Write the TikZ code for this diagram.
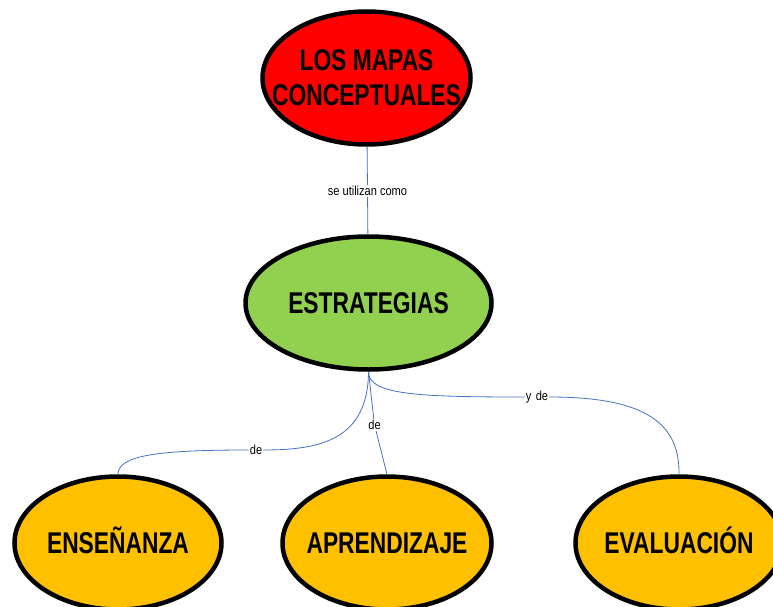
\documentclass[tikz,border=0pt]{standalone}
\usepackage{xcolor}
\usepackage{fontspec}
\usepackage{tikz}
\usetikzlibrary{shapes}
\usetikzlibrary{shapes.geometric}
\usetikzlibrary{positioning}

\newfontfamily\conceptfont[FakeStretch=0.76]{Liberation Sans}
\newfontfamily\linkfont[FakeStretch=0.85]{Liberation Sans}
\definecolor{mapred}{HTML}{FF0000}
\definecolor{mapgreen}{HTML}{92D050}
\definecolor{maporange}{HTML}{FFC000}
\definecolor{linkblue}{HTML}{4472C4}

\begin{document}
\begin{tikzpicture}[x=1pt, y=-1pt,
  concept/.style={ellipse, draw=black, line width=4.5pt,
    inner xsep=-30pt, inner ysep=-22pt,
    minimum height=133pt, align=center,
    font=\conceptfont\bfseries\fontsize{30}{35}\selectfont},
  oneline/.style={text height=21.5pt, text depth=0pt},
  link/.style={draw=linkblue, line width=0.8pt},
  linklabel/.style={fill=white, inner sep=1pt, text=black,
    font=\linkfont\fontsize{13}{15}\selectfont}]
\useasboundingbox (0, 0) rectangle (773, 607);

% conceptos
\node [concept, fill=mapred, minimum width=208pt] (mapas) at (366.5, 78) {LOS MAPAS\\CONCEPTUALES};
\node [concept, oneline, fill=mapgreen, minimum width=246pt] (estrategias) at (368.5, 303) {ESTRATEGIAS};
\node [concept, oneline, fill=maporange, minimum width=207pt] (ensenanza) at (118, 543) {ENSEÑANZA};
\node [concept, oneline, fill=maporange, minimum width=209pt] (aprendizaje) at (387, 543) {APRENDIZAJE};
\node [concept, oneline, fill=maporange, minimum width=207pt] (evaluacion) at (679, 543) {EVALUACIÓN};

% palabras de enlace
\node [linklabel] (utilizan) at (367.5, 191) {se utilizan como};
\node [linklabel] (deA) at (256, 450) {de};
\node [linklabel] (deB) at (374.5, 425) {de};
\node [linklabel] (yde) at (537, 397) {y\,\,de};

% enlaces
\draw [link] (mapas) to (utilizan);
\draw [link] (utilizan) to (estrategias);
\draw [link] (estrategias.south) .. controls (368, 440) and (320, 450) .. (deA.east);
\draw [link] (deA.west) .. controls (160, 450) and (118, 455) .. (ensenanza.north);
\draw [link] (estrategias.south) to (deB);
\draw [link] (deB) to (aprendizaje.north);
\draw [link] (estrategias.south) .. controls (368, 395) and (420, 397) .. (yde.west);
\draw [link] (yde.east) .. controls (640, 397) and (680, 420) .. (evaluacion.north);
\end{tikzpicture}
\end{document}
